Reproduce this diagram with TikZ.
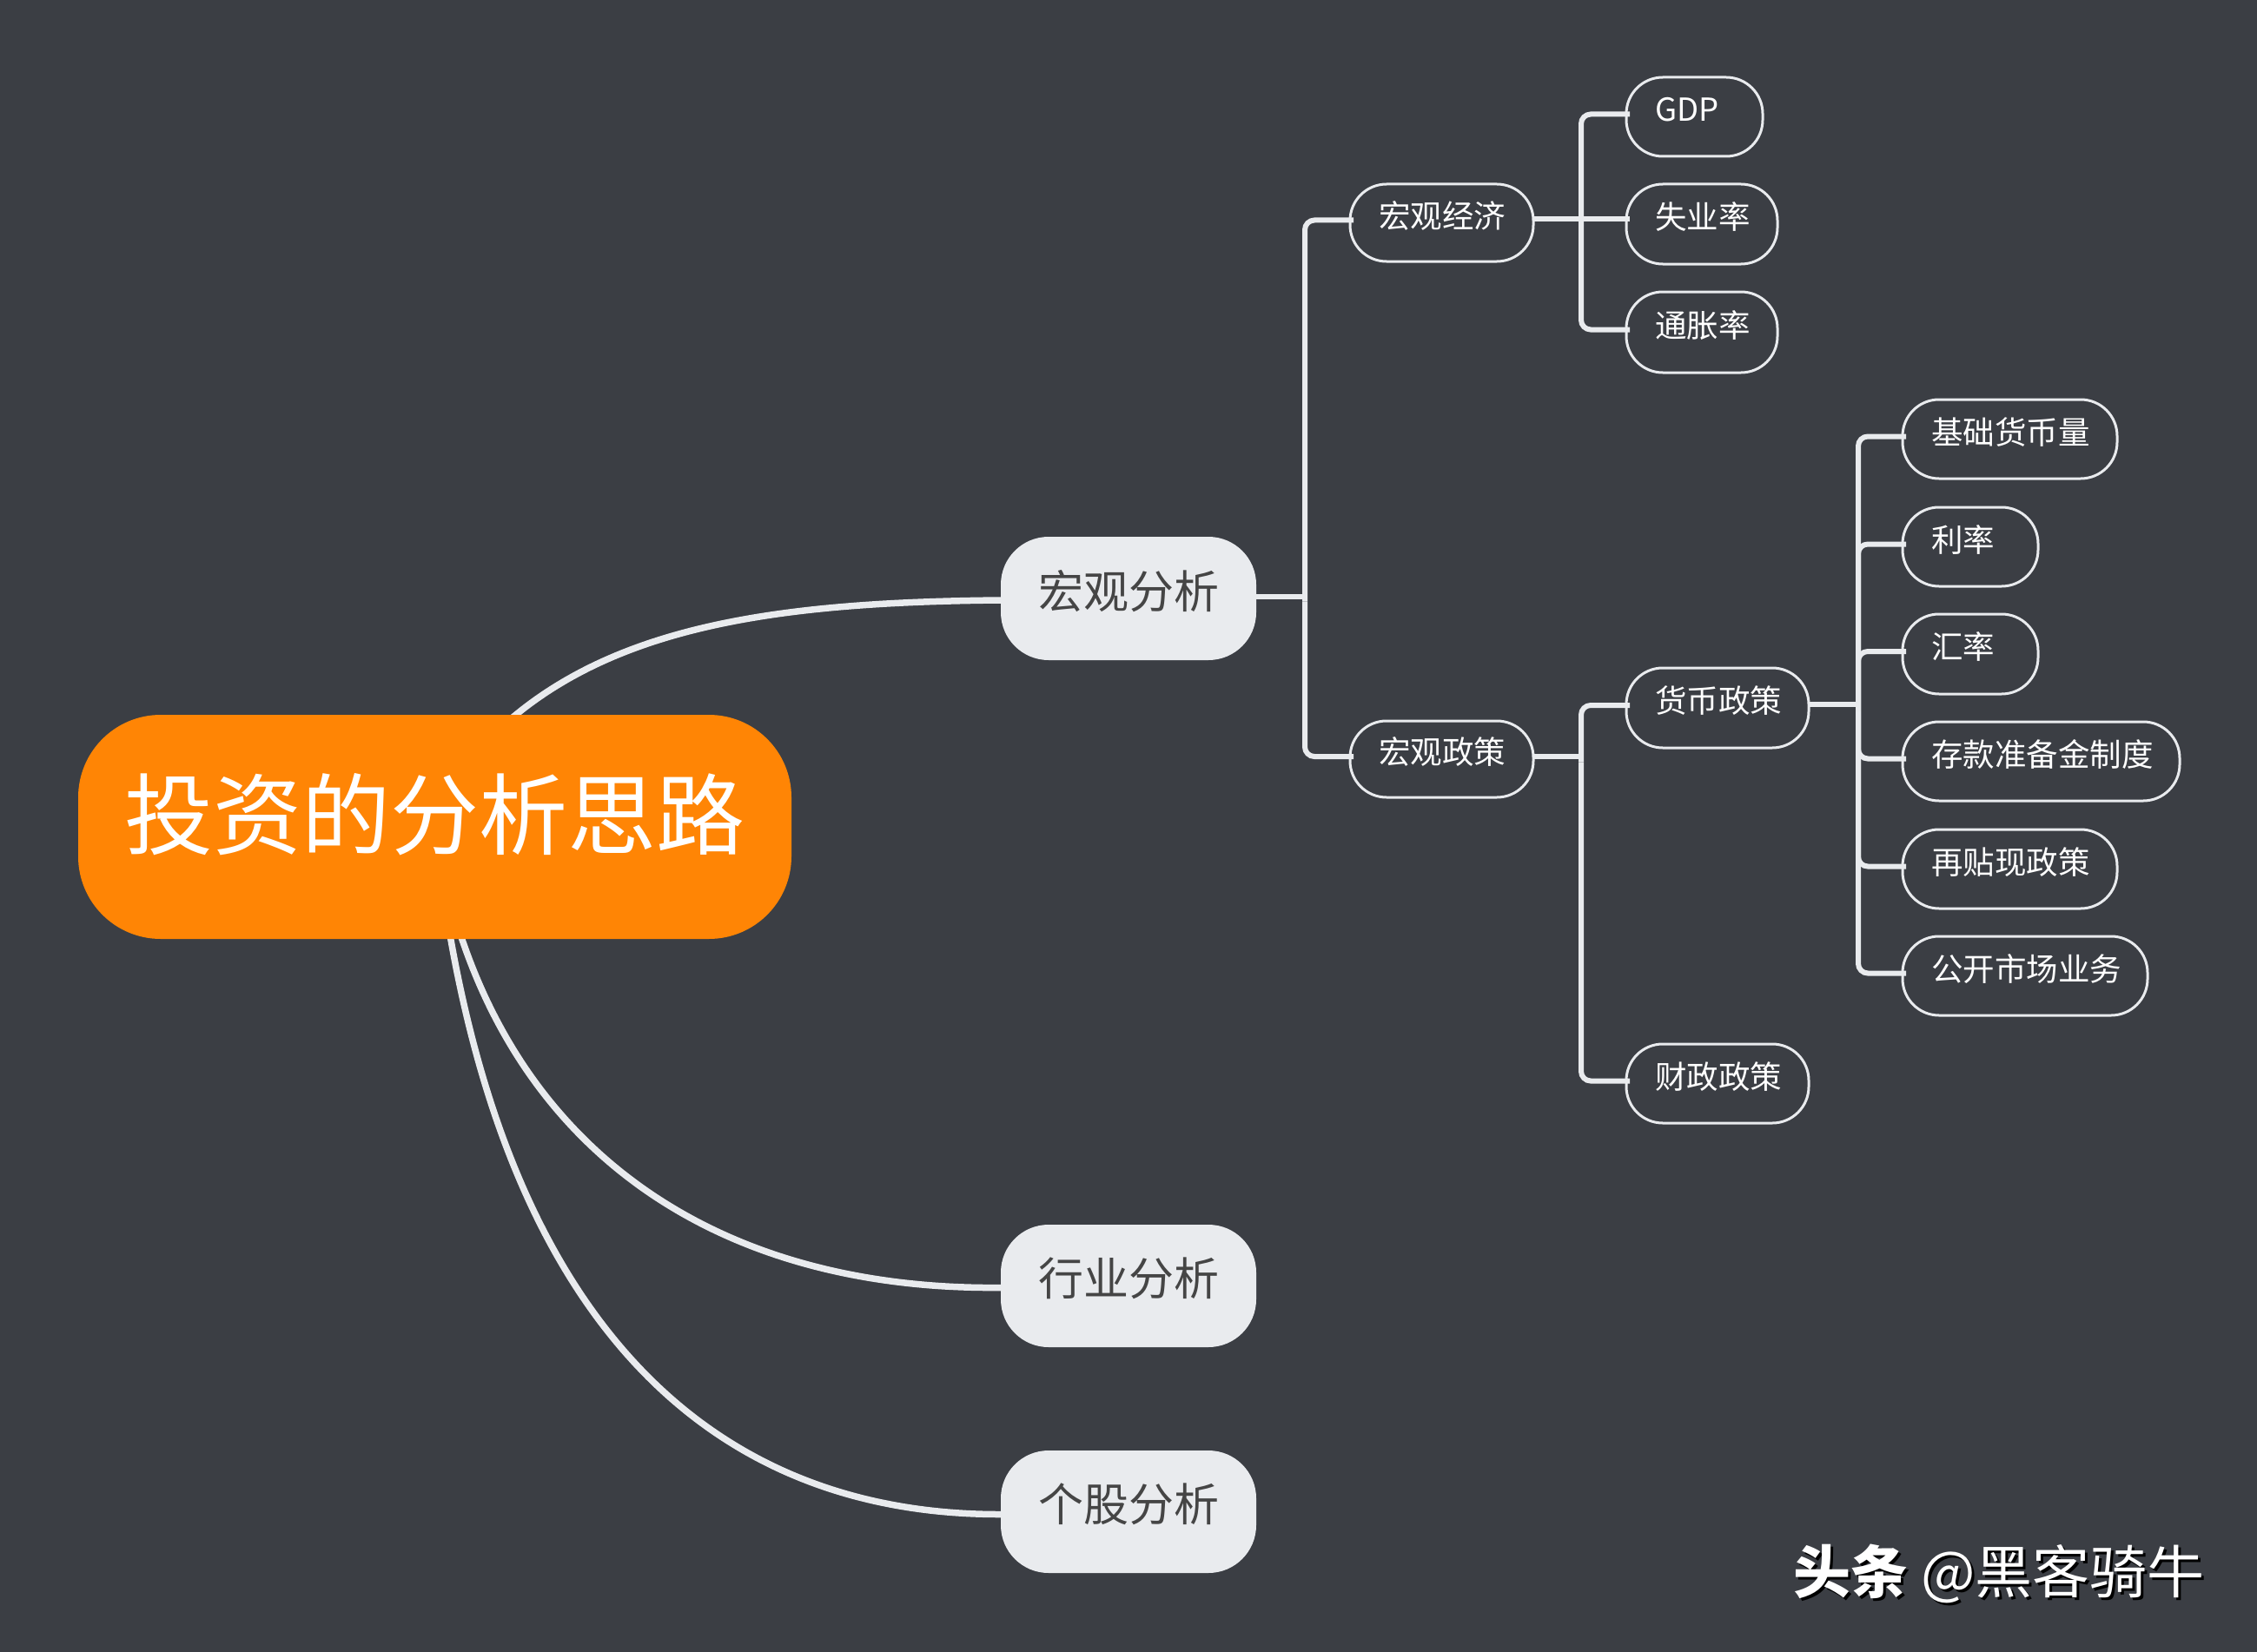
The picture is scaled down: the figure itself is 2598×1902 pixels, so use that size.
\documentclass[tikz,border=0pt]{standalone}
\usepackage{fontspec}
\setmainfont{Noto Sans CJK SC}
\usetikzlibrary{calc}
\definecolor{bgc}{HTML}{3B3E44}
\definecolor{linec}{HTML}{E9EBEE}
\definecolor{rootc}{HTML}{FF8505}
\definecolor{lvc}{HTML}{454545}
\pgfdeclarelayer{bgl}
\pgfdeclarelayer{edges}
\pgfsetlayers{bgl,edges,main}
\newcommand{\shadowtxt}[1]{\rlap{\kern3pt\raisebox{-3pt}{\color{black}#1}}#1}
% name, x1, y1, x2, y2, style, align, text
\newcommand{\mnode}[8]{%
  \pgfmathsetmacro{\mcx}{(#2+#4)/2}%
  \pgfmathsetmacro{\mcy}{(#3+#5)/2}%
  \pgfmathsetmacro{\mw}{#4-#2}%
  \pgfmathsetmacro{\mh}{#5-#3}%
  \pgfmathsetmacro{\mtw}{#4-#2-66}%
  \node[#6,minimum width=\mw pt,minimum height=\mh pt] (#1) at (\mcx,\mcy) {\makebox[\mtw pt][#7]{#8}};%
}
\newcommand{\elbow}[3]{%
  \draw[conn,rounded corners=11pt] ($(#1|-#2.east)+(0,-3.5pt)$) -- ($(#1|-#3.west)+(0,3pt)$) -- ($(#3.west)+(4pt,3pt)$);%
}
\tikzset{
  x=1pt,y=-1pt,
  conn/.style={draw=linec,line width=6pt,line cap=butt},
  curve/.style={draw=linec,line width=7.5pt},
  rootbox/.style={fill=rootc,draw=none,rounded corners=95pt,inner sep=0pt,outer sep=0pt,text=white,
    font=\fontsize{102}{110}\selectfont,text height=90pt,text depth=42pt},
  topicbox/.style={fill=linec,draw=none,rounded corners=55pt,inner sep=0pt,outer sep=0pt,text=lvc,
    font=\fontsize{52}{58}\selectfont,text height=44pt,text depth=22pt},
  leafbox/.style={draw=linec,line width=3pt,rounded corners=42pt,inner sep=0pt,outer sep=0pt,text=white,
    font=\fontsize{36.5}{40}\selectfont,text height=28pt,text depth=17pt},
}
\begin{document}
\begin{tikzpicture}
\begin{pgfonlayer}{bgl}
\fill[bgc] (0,0) rectangle (2598,1902);
\end{pgfonlayer}
\useasboundingbox (0,0) rectangle (2598,1902);

\mnode{root}{90}{823}{911}{1081}{rootbox}{c}{投资的分析思路}
\mnode{macro}{1152}{618}{1446}{760}{topicbox}{c}{宏观分析}
\mnode{industry}{1152}{1410}{1446}{1551}{topicbox}{c}{行业分析}
\mnode{stock}{1152}{1670}{1446}{1811}{topicbox}{c}{个股分析}

\mnode{econ}{1554}{212}{1765}{301}{leafbox}{l}{宏观经济}
\mnode{policy}{1554}{830}{1765}{918}{leafbox}{l}{宏观政策}
\mnode{gdp}{1872}{89}{2029}{180}{leafbox}{l}{GDP}
\mnode{unemp}{1872}{212}{2046}{304}{leafbox}{l}{失业率}
\mnode{infl}{1872}{336}{2046}{429}{leafbox}{l}{通胀率}
\mnode{money}{1872}{769}{2082}{861}{leafbox}{l}{货币政策}
\mnode{fiscal}{1872}{1202}{2082}{1293}{leafbox}{l}{财政政策}
\mnode{base}{2190}{460}{2437}{551}{leafbox}{l}{基础货币量}
\mnode{rate}{2190}{584}{2346}{675}{leafbox}{l}{利率}
\mnode{fx}{2190}{707}{2346}{799}{leafbox}{l}{汇率}
\mnode{reserve}{2190}{831}{2509}{922}{leafbox}{l}{存款准备金制度}
\mnode{redisc}{2190}{955}{2437}{1046}{leafbox}{l}{再贴现政策}
\mnode{openm}{2190}{1078}{2472}{1169}{leafbox}{l}{公开市场业务}

\coordinate (busa) at (1502,0);
\coordinate (busb) at (1820,0);
\coordinate (busc) at (2139,0);

\begin{pgfonlayer}{edges}
\draw[curve] ($(root.center)+(-14pt,0)$) .. controls (610,735) and (830,694) .. ($(macro.west)+(0,-2pt)$);
\draw[curve] (root.center) .. controls (555,1300) and (800,1486) .. ($(industry.west)+(0,-2pt)$);
\draw[curve] (root.center) .. controls (560,1500) and (800,1744) .. ($(stock.west)+(0,-3pt)$);
\end{pgfonlayer}

\draw[conn] ($(macro.east)+(0,2pt)$) -- ($(busa|-macro.east)+(0,2pt)$);
\elbow{busa}{macro}{econ}
\elbow{busa}{macro}{policy}

\draw[conn] ($(econ.east)+(0,4pt)$) -- ($(busb|-econ.east)+(0,4pt)$);
\elbow{busb}{econ}{gdp}
\draw[conn] ($(busb|-econ.east)+(0,4pt)$) -- ($(unemp.west|-econ.east)+(4pt,4pt)$);
\elbow{busb}{econ}{infl}

\draw[conn] ($(policy.east)+(0,3pt)$) -- ($(busb|-policy.east)+(0,3pt)$);
\elbow{busb}{policy}{money}
\elbow{busb}{policy}{fiscal}

\draw[conn] ($(money.east)+(0,4pt)$) -- ($(busc|-money.east)+(0,4pt)$);
\elbow{busc}{money}{base}
\elbow{busc}{money}{rate}
\elbow{busc}{money}{fx}
\elbow{busc}{money}{reserve}
\elbow{busc}{money}{redisc}
\elbow{busc}{money}{openm}

\node[anchor=center,inner sep=0pt,text=white,font=\fontsize{66}{70}\selectfont] (mark) at (2301,1813)
  {\shadowtxt{\textbf{头条}} \shadowtxt{@黑客骑牛}};
\end{tikzpicture}
\end{document}
